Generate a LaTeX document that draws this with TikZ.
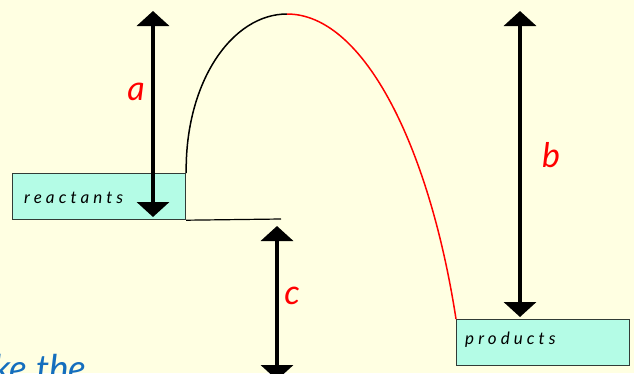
\documentclass[tikz,border=0pt]{standalone}
\usepackage{fontspec}
\usetikzlibrary{arrows.meta}
\newfontfamily\boxfont[LetterSpace=24]{Lato}
\newfontfamily\handfont{Lato}
\definecolor{bgyel}{RGB}{255,255,226}
\definecolor{boxcyan}{RGB}{180,252,230}
\definecolor{boxedge}{RGB}{50,60,55}
\definecolor{textblue}{RGB}{20,110,190}
\tikzset{
  levelbox/.style={draw=boxedge, line width=1.2pt, fill=boxcyan, minimum width=173pt, minimum height=46pt, anchor=north west, inner sep=0pt},
  boxtext/.style={font=\boxfont\itshape\fontsize{17}{19}\selectfont, anchor=west, inner sep=0pt},
  dblarrow/.style={line width=4pt, {Triangle[width=32pt,length=15pt]}-{Triangle[width=32pt,length=15pt]}},
  lbl/.style={font=\handfont\itshape\fontsize{34}{36}\selectfont, text=red, inner sep=0pt},
  hump/.style={line width=1.5pt}
}
\begin{document}
\begin{tikzpicture}[x=1pt,y=-1pt]
\fill[bgyel] (0,0) rectangle (634,373);
\clip (0,0) rectangle (634,373);
\useasboundingbox (0,0) rectangle (634,373);
% boxes
\node[levelbox] (react) at (12,173) {};
\node[levelbox] (prod) at (456,319) {};
\node[boxtext] (rtext) at (24,198) {reactants};
\node[boxtext] (ptext) at (465,340) {products};
% baseline from reactants
\coordinate (lineend) at (281,219);
\draw[line width=1.2pt] (react.south east) -- (lineend);
% hump
\coordinate (peak) at (287,14);
\draw[hump, black] (react.north east) .. controls (185,82) and (232,14) .. (peak);
\draw[hump, red] (peak) .. controls (365,14) and (430,150) .. (prod.north west);
% arrows
\coordinate (atop) at (153,11);
\coordinate (abot) at (153,217);
\coordinate (btop) at (520,11);
\coordinate (bbot) at (520,317);
\coordinate (ctop) at (277,226);
\coordinate (cbot) at (277,380);
\draw[dblarrow] (atop) -- (abot);
\draw[dblarrow] (btop) -- (bbot);
\draw[dblarrow] (ctop) -- (cbot);
% labels
\node[lbl] (la) at (136,92) {a};
\node[lbl] (lb) at (551,155) {b};
\node[lbl] (lc) at (292,296) {c};
% cut-off text (cut off at the picture's edge, as in the reference)
\node[font=\handfont\itshape\fontsize{37}{40}\selectfont, text=textblue, anchor=base west, inner sep=0pt] (ke) at (-7,381) {ke the};
\end{tikzpicture}
\end{document}
